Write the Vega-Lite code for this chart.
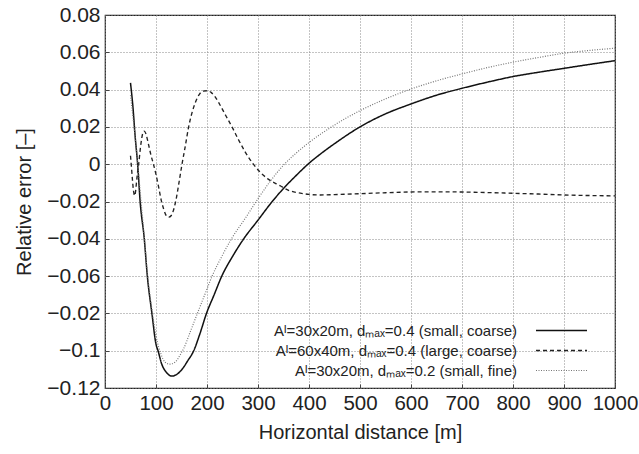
{
  "$schema": "https://vega.github.io/schema/vega-lite/v6.json",
  "width": 510,
  "height": 373,
  "autosize": {"type": "none"},
  "padding": {"left": 105, "top": 15, "right": 24, "bottom": 66},
  "background": "white",
  "config": {
    "font": "Liberation Sans",
    "view": {"stroke": "#222", "strokeWidth": 1.2}
  },
  "datasets": {
    "curves": [
      {"x": 50, "y": 0.0436, "s": "a"}, {"x": 55, "y": 0.03, "s": "a"}, {"x": 59, "y": 0.0153, "s": "a"}, {"x": 64, "y": 0.0, "s": "a"},
      {"x": 69, "y": -0.0204, "s": "a"}, {"x": 77, "y": -0.04, "s": "a"}, {"x": 83, "y": -0.06, "s": "a"}, {"x": 92, "y": -0.08, "s": "a"},
      {"x": 100, "y": -0.0965, "s": "a"}, {"x": 104, "y": -0.1, "s": "a"}, {"x": 111, "y": -0.107, "s": "a"}, {"x": 120, "y": -0.1115, "s": "a"},
      {"x": 131, "y": -0.1136, "s": "a"}, {"x": 140, "y": -0.1128, "s": "a"}, {"x": 151, "y": -0.11, "s": "a"}, {"x": 162, "y": -0.1055, "s": "a"},
      {"x": 174, "y": -0.1, "s": "a"}, {"x": 186, "y": -0.091, "s": "a"}, {"x": 199, "y": -0.08, "s": "a"}, {"x": 214, "y": -0.07, "s": "a"},
      {"x": 229, "y": -0.06, "s": "a"}, {"x": 250, "y": -0.0495, "s": "a"}, {"x": 272, "y": -0.04, "s": "a"}, {"x": 300, "y": -0.03, "s": "a"},
      {"x": 325, "y": -0.021, "s": "a"}, {"x": 350, "y": -0.013, "s": "a"}, {"x": 375, "y": -0.006, "s": "a"}, {"x": 400, "y": 0.0005, "s": "a"},
      {"x": 425, "y": 0.006, "s": "a"}, {"x": 450, "y": 0.011, "s": "a"}, {"x": 500, "y": 0.02, "s": "a"}, {"x": 550, "y": 0.027, "s": "a"},
      {"x": 600, "y": 0.0323, "s": "a"}, {"x": 650, "y": 0.037, "s": "a"}, {"x": 700, "y": 0.0407, "s": "a"}, {"x": 750, "y": 0.044, "s": "a"},
      {"x": 800, "y": 0.047, "s": "a"}, {"x": 850, "y": 0.0493, "s": "a"}, {"x": 900, "y": 0.0514, "s": "a"}, {"x": 950, "y": 0.0535, "s": "a"},
      {"x": 1000, "y": 0.0555, "s": "a"},

      {"x": 50, "y": 0.0045, "s": "b"}, {"x": 52, "y": -0.002, "s": "b"}, {"x": 54, "y": -0.009, "s": "b"}, {"x": 56, "y": -0.0145, "s": "b"},
      {"x": 58, "y": -0.0168, "s": "b"}, {"x": 60, "y": -0.0145, "s": "b"}, {"x": 62, "y": -0.009, "s": "b"}, {"x": 64, "y": -0.004, "s": "b"},
      {"x": 66, "y": 0.0, "s": "b"}, {"x": 70, "y": 0.01, "s": "b"}, {"x": 74, "y": 0.0165, "s": "b"}, {"x": 77, "y": 0.0177, "s": "b"},
      {"x": 80, "y": 0.0165, "s": "b"}, {"x": 85, "y": 0.011, "s": "b"}, {"x": 90, "y": 0.005, "s": "b"}, {"x": 95, "y": 0.0, "s": "b"},
      {"x": 100, "y": -0.0055, "s": "b"}, {"x": 105, "y": -0.012, "s": "b"}, {"x": 110, "y": -0.019, "s": "b"}, {"x": 115, "y": -0.024, "s": "b"},
      {"x": 120, "y": -0.0275, "s": "b"}, {"x": 125, "y": -0.0284, "s": "b"}, {"x": 130, "y": -0.0275, "s": "b"}, {"x": 135, "y": -0.024, "s": "b"},
      {"x": 140, "y": -0.018, "s": "b"}, {"x": 145, "y": -0.01, "s": "b"}, {"x": 151, "y": 0.0, "s": "b"}, {"x": 157, "y": 0.009, "s": "b"},
      {"x": 164, "y": 0.02, "s": "b"}, {"x": 170, "y": 0.027, "s": "b"}, {"x": 177, "y": 0.033, "s": "b"}, {"x": 185, "y": 0.0375, "s": "b"},
      {"x": 192, "y": 0.0392, "s": "b"}, {"x": 200, "y": 0.0394, "s": "b"}, {"x": 208, "y": 0.0385, "s": "b"}, {"x": 215, "y": 0.0365, "s": "b"},
      {"x": 225, "y": 0.032, "s": "b"}, {"x": 237, "y": 0.026, "s": "b"}, {"x": 249, "y": 0.02, "s": "b"}, {"x": 262, "y": 0.013, "s": "b"},
      {"x": 275, "y": 0.0065, "s": "b"}, {"x": 291, "y": 0.0, "s": "b"}, {"x": 305, "y": -0.0045, "s": "b"}, {"x": 320, "y": -0.008, "s": "b"},
      {"x": 343, "y": -0.0115, "s": "b"}, {"x": 360, "y": -0.014, "s": "b"}, {"x": 383, "y": -0.0155, "s": "b"}, {"x": 400, "y": -0.0162, "s": "b"},
      {"x": 422, "y": -0.0165, "s": "b"}, {"x": 450, "y": -0.0163, "s": "b"}, {"x": 500, "y": -0.0158, "s": "b"}, {"x": 550, "y": -0.0153, "s": "b"},
      {"x": 600, "y": -0.0149, "s": "b"}, {"x": 650, "y": -0.0148, "s": "b"}, {"x": 700, "y": -0.0149, "s": "b"}, {"x": 750, "y": -0.0152, "s": "b"},
      {"x": 800, "y": -0.0156, "s": "b"}, {"x": 850, "y": -0.016, "s": "b"}, {"x": 900, "y": -0.0165, "s": "b"}, {"x": 950, "y": -0.0168, "s": "b"},
      {"x": 1000, "y": -0.017, "s": "b"},

      {"x": 50, "y": 0.037, "s": "c"}, {"x": 55, "y": 0.025, "s": "c"}, {"x": 60, "y": 0.012, "s": "c"}, {"x": 65, "y": -0.002, "s": "c"},
      {"x": 70, "y": -0.018, "s": "c"}, {"x": 77, "y": -0.039, "s": "c"}, {"x": 83, "y": -0.058, "s": "c"}, {"x": 92, "y": -0.078, "s": "c"},
      {"x": 100, "y": -0.092, "s": "c"}, {"x": 110, "y": -0.102, "s": "c"}, {"x": 118, "y": -0.1062, "s": "c"}, {"x": 127, "y": -0.1072, "s": "c"},
      {"x": 137, "y": -0.1062, "s": "c"}, {"x": 150, "y": -0.101, "s": "c"}, {"x": 154, "y": -0.099, "s": "c"}, {"x": 167, "y": -0.09, "s": "c"},
      {"x": 184, "y": -0.078, "s": "c"}, {"x": 197, "y": -0.069, "s": "c"}, {"x": 210, "y": -0.06, "s": "c"}, {"x": 228, "y": -0.05, "s": "c"},
      {"x": 248, "y": -0.04, "s": "c"}, {"x": 275, "y": -0.029, "s": "c"}, {"x": 300, "y": -0.0185, "s": "c"}, {"x": 325, "y": -0.0088, "s": "c"},
      {"x": 350, "y": -0.0005, "s": "c"}, {"x": 375, "y": 0.006, "s": "c"}, {"x": 400, "y": 0.0116, "s": "c"}, {"x": 450, "y": 0.021, "s": "c"},
      {"x": 500, "y": 0.0287, "s": "c"}, {"x": 550, "y": 0.035, "s": "c"}, {"x": 600, "y": 0.0403, "s": "c"}, {"x": 650, "y": 0.0447, "s": "c"},
      {"x": 700, "y": 0.0484, "s": "c"}, {"x": 750, "y": 0.0518, "s": "c"}, {"x": 800, "y": 0.0547, "s": "c"}, {"x": 850, "y": 0.0572, "s": "c"},
      {"x": 900, "y": 0.0595, "s": "c"}, {"x": 950, "y": 0.061, "s": "c"}, {"x": 1000, "y": 0.0622, "s": "c"}
    ]
  },
  "data": {"name": "curves"},
  "mark": {"type": "line", "interpolate": "monotone", "clip": true},
  "encoding": {
    "x": {
      "field": "x", "type": "quantitative",
      "scale": {"domain": [0, 1000], "nice": false, "zero": false},
      "axis": {
        "title": "Horizontal distance [m]",
        "values": [0, 100, 200, 300, 400, 500, 600, 700, 800, 900, 1000],
        "format": "d", "labelOverlap": false, "labelFlush": false, "labelBound": false,
        "grid": true, "gridDash": [1, 2], "gridColor": "#888", "gridWidth": 1,
        "domain": false, "ticks": true, "tickSize": -4, "tickColor": "#444",
        "labelPadding": 9, "labelFontSize": 20.5, "labelColor": "#222",
        "titleFontSize": 20, "titleFontWeight": "normal", "titleColor": "#222", "titlePadding": 9
      }
    },
    "y": {
      "field": "y", "type": "quantitative",
      "scale": {"domain": [-0.12, 0.08], "nice": false, "zero": false},
      "axis": {
        "title": "Relative error [–]",
        "values": [-0.12, -0.1, -0.08, -0.06, -0.04, -0.02, 0, 0.02, 0.04, 0.06, 0.08],
        "labelExpr": "abs(datum.value + 0.08) < 1e-6 ? '−0.02' : format(datum.value, '~g')",
        "labelOverlap": false, "labelFlush": false, "labelBound": false,
        "grid": true, "gridDash": [1, 2], "gridColor": "#888", "gridWidth": 1,
        "domain": false, "ticks": true, "tickSize": -4, "tickColor": "#444",
        "labelPadding": 9, "labelFontSize": 21, "labelColor": "#222",
        "titleFontSize": 20, "titleFontWeight": "normal", "titleColor": "#222", "titlePadding": 12
      }
    },
    "color": {
      "field": "s", "type": "nominal",
      "scale": {"domain": ["a", "b", "c"], "range": ["#111111", "#222222", "#777777"]},
      "legend": {
        "orient": "none", "legendX": 449, "legendY": 308, "padding": 0,
        "title": null, "symbolType": "M-8.5,0H8.5", "symbolSize": 36, "symbolStrokeWidth": 1.3,
        "labelAlign": "right", "labelOffset": -52, "labelLimit": 400,
        "labelFontSize": 15, "labelColor": "#222", "rowPadding": 4,
        "labelExpr": "datum.label == 'a' ? 'Aᴵ=30x20m, dₘₐₓ=0.4 (small, coarse)' : datum.label == 'b' ? 'Aᴵ=60x40m, dₘₐₓ=0.4 (large, coarse)' : 'Aᴵ=30x20m, dₘₐₓ=0.2 (small, fine)'"
      }
    },
    "strokeDash": {
      "field": "s", "type": "nominal",
      "scale": {"domain": ["a", "b", "c"], "range": [[1, 0], [4, 3], [1, 1.5]]},
      "legend": {
        "orient": "none", "legendX": 449, "legendY": 308, "padding": 0,
        "title": null, "symbolType": "M-8.5,0H8.5", "symbolSize": 36, "symbolStrokeWidth": 1.3,
        "labelAlign": "right", "labelOffset": -52, "labelLimit": 400,
        "labelFontSize": 15, "labelColor": "#222", "rowPadding": 4,
        "labelExpr": "datum.label == 'a' ? 'Aᴵ=30x20m, dₘₐₓ=0.4 (small, coarse)' : datum.label == 'b' ? 'Aᴵ=60x40m, dₘₐₓ=0.4 (large, coarse)' : 'Aᴵ=30x20m, dₘₐₓ=0.2 (small, fine)'"
      }
    },
    "strokeWidth": {
      "field": "s", "type": "nominal",
      "scale": {"domain": ["a", "b", "c"], "range": [1.5, 1.2, 1.1]},
      "legend": null
    }
  }
}
